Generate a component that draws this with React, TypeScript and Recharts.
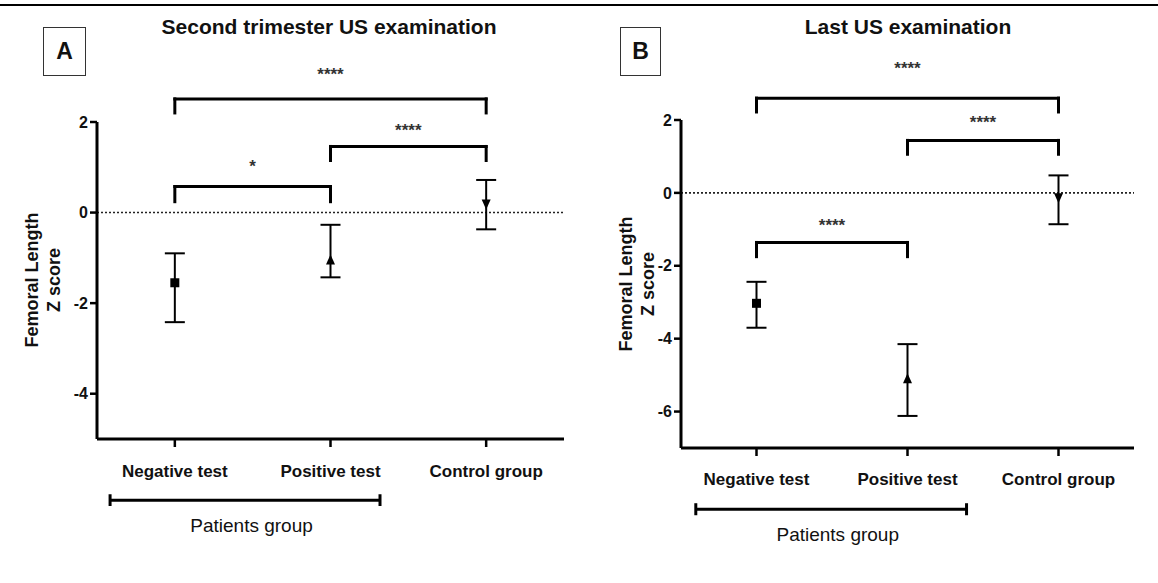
import React from 'react';
import {
  ScatterChart,
  Scatter,
  XAxis,
  YAxis,
  ErrorBar,
  ReferenceLine,
  ReferenceDot,
} from 'recharts';

// ---------- data ----------
const categories = ['Negative test', 'Positive test', 'Control group'];

// Panel A: Second trimester US examination
const meanA = [-1.55, -1.05, 0.19];
const lowA = [-2.42, -1.43, -0.37];
const highA = [-0.9, -0.27, 0.72];
const yTicksA = [-4, -2, 0, 2];

// Panel B: Last US examination
const meanB = [-3.03, -5.1, -0.13];
const lowB = [-3.7, -6.12, -0.86];
const highB = [-2.44, -4.15, 0.48];
const yTicksB = [-6, -4, -2, 0, 2];

// significance brackets (group index from/to, bracket height, leg end, label)
const bracketFromA = [0, 1, 0];
const bracketToA = [2, 2, 1];
const bracketTopA = [2.51, 1.46, 0.575];
const bracketEndA = [2.2, 1.15, 0.24];
const bracketLabelYA = [3.05, 1.83, 1.02];
const bracketTextA = ['****', '****', '*'];

const bracketFromB = [0, 1, 0];
const bracketToB = [2, 2, 1];
const bracketTopB = [2.6, 1.44, -1.36];
const bracketEndB = [2.22, 1.06, -1.75];
const bracketLabelYB = [3.44, 1.95, -0.88];
const bracketTextB = ['****', '****', '****'];

const groupLabel = 'Patients group';
const markerShapes = ['square', 'triangle', 'triangleDown'];

// ---------- styling / layout ----------
const FONT = '"Liberation Sans", Arial, Helvetica, sans-serif';
const INK = '#111';

const panels = [
  {
    key: 'A',
    title: 'Second trimester US examination',
    left: 0,
    width: 579,
    margin: { top: 122, right: 15, bottom: 114, left: 67 },
    domain: [-5, 2],
    ticks: yTicksA,
    mean: meanA,
    low: lowA,
    high: highA,
    bFrom: bracketFromA,
    bTo: bracketToA,
    bTop: bracketTopA,
    bEnd: bracketEndA,
    bLabelY: bracketLabelYA,
    bText: bracketTextA,
    group: { x1: -0.416, x2: 1.318, y: -6.35, cap: 0.13, textX: 0.493, textY: -6.9 },
    tickMargin: 18,
    titleX: 329,
    box: { x: 43, y: 27, w: 43, h: 49 },
    yLabelX: 42.5,
    yLabelY: 280,
  },
  {
    key: 'B',
    title: 'Last US examination',
    left: 579,
    width: 579,
    margin: { top: 120, right: 24, bottom: 105, left: 72 },
    domain: [-7, 2],
    ticks: yTicksB,
    mean: meanB,
    low: lowB,
    high: highB,
    bFrom: bracketFromB,
    bTo: bracketToB,
    bTop: bracketTopB,
    bEnd: bracketEndB,
    bLabelY: bracketLabelYB,
    bText: bracketTextB,
    group: { x1: -0.402, x2: 1.391, y: -8.68, cap: 0.165, textX: 0.538, textY: -9.38 },
    tickMargin: 17,
    titleX: 908,
    box: { x: 620, y: 27, w: 41, h: 49 },
    yLabelX: 637,
    yLabelY: 284,
  },
];

const Marker = (props: any) => {
  const { cx, cy, payload } = props;
  if (cx == null || cy == null) return null;
  const s = 4.5;
  const kind = markerShapes[payload.idx];
  if (kind === 'square') {
    return <rect x={cx - s} y={cy - s} width={2 * s} height={2 * s} fill="#000" />;
  }
  if (kind === 'triangle') {
    return (
      <polygon
        points={`${cx},${cy - s - 1} ${cx - s},${cy + s} ${cx + s},${cy + s}`}
        fill="#000"
      />
    );
  }
  return (
    <polygon
      points={`${cx},${cy + s + 1} ${cx - s},${cy - s} ${cx + s},${cy - s}`}
      fill="#000"
    />
  );
};

const lineProps = {
  stroke: '#000',
  strokeWidth: 3,
  strokeLinecap: 'square' as const,
  ifOverflow: 'visible' as const,
};

function Panel({ p }: { p: (typeof panels)[number] }) {
  const data = categories.map((c, i) => ({
    idx: i,
    x: i,
    y: p.mean[i],
    err: [p.mean[i] - p.low[i], p.high[i] - p.mean[i]],
  }));

  const brackets: React.ReactNode[] = [];
  p.bFrom.forEach((from, i) => {
    const to = p.bTo[i];
    brackets.push(
      <ReferenceLine
        key={`bl${i}`}
        segment={[{ x: from, y: p.bEnd[i] }, { x: from, y: p.bTop[i] }]}
        {...lineProps}
      />,
      <ReferenceLine
        key={`bt${i}`}
        segment={[{ x: from, y: p.bTop[i] }, { x: to, y: p.bTop[i] }]}
        {...lineProps}
      />,
      <ReferenceLine
        key={`br${i}`}
        segment={[{ x: to, y: p.bTop[i] }, { x: to, y: p.bEnd[i] }]}
        {...lineProps}
      />,
      <ReferenceDot
        key={`bs${i}`}
        x={(from + to) / 2}
        y={p.bLabelY[i]}
        r={1}
        fill="none"
        stroke="none"
        ifOverflow="visible"
        label={{
          value: p.bText[i],
          position: 'center',
          fill: '#333',
          fontSize: 17,
          fontWeight: 'bold',
          fontFamily: FONT,
        }}
      />
    );
  });

  const g = p.group;

  return (
    <div style={{ position: 'absolute', left: p.left, top: 0 }}>
      <ScatterChart width={p.width} height={583} margin={p.margin}>
        <XAxis
          type="number"
          dataKey="x"
          domain={[-0.5, 2.5]}
          ticks={[0, 1, 2]}
          tickFormatter={(v: number) => categories[v] ?? ''}
          interval={0}
          height={30}
          axisLine={{ stroke: '#000', strokeWidth: 3 }}
          tickLine={{ stroke: '#000', strokeWidth: 2.5 }}
          tickSize={8}
          tickMargin={p.tickMargin}
          tick={{ fill: INK, fontSize: 17, fontWeight: 'bold', fontFamily: FONT }}
          allowDataOverflow
        />
        <YAxis
          type="number"
          dataKey="y"
          domain={p.domain}
          ticks={p.ticks}
          interval={0}
          width={30}
          axisLine={{ stroke: '#000', strokeWidth: 3 }}
          tickLine={{ stroke: '#000', strokeWidth: 2.5 }}
          tickSize={7}
          tickMargin={2}
          tick={{ fill: INK, fontSize: 16, fontWeight: 'bold', fontFamily: FONT }}
          allowDataOverflow
        />
        <ReferenceLine y={0} stroke="#222" strokeWidth={1.6} strokeDasharray="2 2" />
        {brackets}
        <ReferenceLine
          segment={[{ x: g.x1, y: g.y }, { x: g.x2, y: g.y }]}
          {...lineProps}
          strokeLinecap="butt"
        />
        <ReferenceLine
          segment={[{ x: g.x1, y: g.y - g.cap }, { x: g.x1, y: g.y + g.cap }]}
          {...lineProps}
          strokeLinecap="butt"
        />
        <ReferenceLine
          segment={[{ x: g.x2, y: g.y - g.cap }, { x: g.x2, y: g.y + g.cap }]}
          {...lineProps}
          strokeLinecap="butt"
        />
        <ReferenceDot
          x={g.textX}
          y={g.textY}
          r={1}
          fill="none"
          stroke="none"
          ifOverflow="visible"
          label={{
            value: groupLabel,
            position: 'center',
            fill: INK,
            fontSize: 19,
            fontFamily: FONT,
          }}
        />
        <Scatter data={data} shape={Marker} isAnimationActive={false}>
          <ErrorBar
            dataKey="err"
            direction="y"
            width={10}
            stroke="#000"
            strokeWidth={2}
            isAnimationActive={false}
          />
        </Scatter>
      </ScatterChart>
    </div>
  );
}

export default function App() {
  return (
    <div
      style={{
        position: 'absolute',
        left: 0,
        top: 0,
        width: 1158,
        height: 583,
        background: '#fff',
        fontFamily: FONT,
        overflow: 'hidden',
      }}
    >
      <div
        style={{
          position: 'absolute',
          left: 0,
          top: 4,
          width: 1158,
          height: 2,
          background: '#000',
        }}
      />
      {panels.map((p) => (
        <Panel key={p.key} p={p} />
      ))}
      {panels.map((p) => (
        <React.Fragment key={`o${p.key}`}>
          <div
            style={{
              position: 'absolute',
              left: p.titleX - 250,
              width: 500,
              top: 14,
              lineHeight: '26px',
              textAlign: 'center',
              fontSize: 21,
              fontWeight: 'bold',
              color: INK,
              whiteSpace: 'nowrap',
            }}
          >
            {p.title}
          </div>
          <div
            style={{
              position: 'absolute',
              left: p.box.x,
              top: p.box.y,
              width: p.box.w,
              height: p.box.h,
              boxSizing: 'border-box',
              border: '1.5px solid #333',
              display: 'flex',
              alignItems: 'center',
              justifyContent: 'center',
              fontSize: 23,
              fontWeight: 'bold',
              color: INK,
            }}
          >
            {p.key}
          </div>
          <div
            style={{
              position: 'absolute',
              left: p.yLabelX - 100,
              top: p.yLabelY - 22,
              width: 200,
              height: 44,
              transform: 'rotate(-90deg)',
              transformOrigin: '50% 50%',
              textAlign: 'center',
              fontSize: 18,
              lineHeight: '22px',
              fontWeight: 'bold',
              color: INK,
              whiteSpace: 'nowrap',
            }}
          >
            Femoral Length
            <br />Z score
          </div>
        </React.Fragment>
      ))}
    </div>
  );
}
